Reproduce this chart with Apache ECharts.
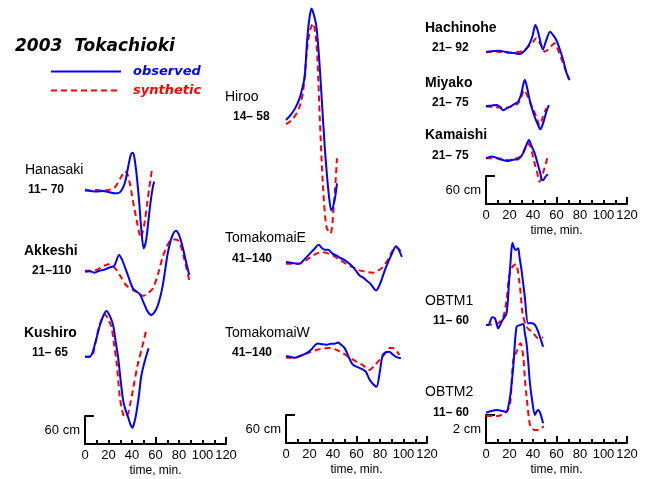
<!DOCTYPE html>
<html><head><meta charset="utf-8">
<script src="https://cdn.jsdelivr.net/npm/echarts@6/dist/echarts.min.js"></script>
<style>html,body{margin:0;padding:0;background:#fff}#c{width:650px;height:479px}</style>
</head><body><div id="c"></div>
<script>
// ---- data: [time (min), water level] ----
const stationNames = ['Hanasaki','Akkeshi','Kushiro','Hiroo','TomakomaiE','TomakomaiW','Hachinohe','Miyako','Kamaishi','OBTM1','OBTM2'];
const periodLabels = ['11\u2013 70','21\u2013110','11\u2013 65','14\u2013 58','41\u2013140','41\u2013140','21\u2013 92','21\u2013 75','21\u2013 75','11\u2013 60','11\u2013 60'];
const timeTickLabels = [0,20,40,60,80,100,120];
const scaleLabels = ['60 cm','60 cm','60 cm','2 cm'];
const scaleValues = [60,60,60,2];

const hanasakiObs = [[0,0],[5,-1],[10,-2],[15,-1],[20,-3],[25,-6],[28,-6],[31,0],[34,17],[37,54],[39,77],[40.5,81],[42,71],[44,32],[46,-21],[48,-86],[50,-124],[52,-107],[54,-64],[56,-21],[58,11],[59,19]];
const hanasakiSyn = [[0,2],[5,0],[10,1],[15,0],[20,1],[25,6],[28,17],[31,30],[34,41],[36,36],[38,17],[40,-11],[42,-39],[44,-64],[46,-90],[47.5,-101],[49,-90],[51,-64],[53,-26],[55,11],[57,45]];
const akkeshiObs = [[0,0],[4,1],[8,-2],[12,2],[16,4],[21,9],[25,13],[29,36],[31.5,26],[33.8,11],[37,-11],[40.8,-36],[44,-43],[46.5,-48],[50.7,-71],[53,-84],[56.3,-93],[60.5,-81],[63,-64],[66,-32],[68,0],[70.4,39],[74,75],[77.4,88],[80,79],[83,54],[86,21],[88.7,-7]];
const akkeshiSyn = [[0,2],[5,2],[10,4],[15,11],[19.7,16],[23,13],[26.8,4],[31,-13],[35,-29],[40.8,-39],[45,-45],[49.3,-52],[53,-47],[57.7,-36],[62,-6],[66.2,32],[70,56],[73.2,68],[77,69],[80.3,64],[84,32],[88.7,-18]];
const kushiroObs = [[0,0],[3,0],[5.6,4],[9,32],[12.7,68],[16,90],[18.3,98],[21,88],[23.9,68],[26,34],[28.1,0],[30,-43],[32.4,-93],[34.5,-114],[36.6,-129],[38.5,-144],[40.3,-152],[42,-141],[43.6,-122],[46,-81],[47.8,-43],[50.7,-11],[54.1,18]];
const kushiroSyn = [[0,0],[5.6,0],[8.5,26],[11.3,57],[14,79],[16.9,91],[19.5,81],[22.5,64],[24.5,30],[26.8,-11],[29.6,-86],[31.5,-114],[33,-127],[34.5,-129],[36.6,-122],[38.5,-101],[40.8,-71],[45.1,-14],[48.5,19],[52.1,57]];
const hirooObs = [[0,0],[4,11],[8,26],[11.6,47],[13.5,64],[15.9,93],[17.8,164],[19.5,210],[21.7,239],[23.5,227],[25.9,200],[28.7,114],[31.5,0],[33.8,-86],[36.6,-164],[38.6,-194],[41.4,-171],[43.4,-136]];
const hirooSyn = [[0,-9],[4,-2],[9,14],[12,32],[14.7,64],[17.9,150],[20.5,193],[23,207],[25.9,164],[27.5,86],[28.7,7],[31.5,-143],[34.4,-229],[37.8,-243],[40.6,-186],[43.4,-82]];
const tomakomaiEObs = [[0,0],[5,-2],[11.7,-4],[15,4],[20.3,18],[24,28],[27.9,37],[30.5,30],[33,26],[36,26],[39,19],[42.8,14],[46,9],[49.9,4],[55.5,-7],[59,-17],[62.6,-29],[66,-34],[68.2,-39],[72,-47],[76.7,-61],[80,-47],[85.1,-11],[90,17],[93.6,34],[96,26],[98.6,11]];
const tomakomaiESyn = [[0,-4],[6,-4],[11.7,-3],[17,4],[23,14],[27,19],[31.5,21],[35,19],[39.9,14],[45,6],[51.3,-4],[57,-11],[62.6,-18],[68,-21],[73.8,-23],[78,-19],[82.3,-11],[87,6],[92.1,29],[95,30],[97.8,21]];
const tomakomaiWObs = [[0,0],[4,-2],[7.6,-4],[12,0],[17.5,6],[22,15],[25,24],[27.3,27],[31,25],[34.4,24],[38,26],[41,26],[44.3,29],[46,26],[49.9,17],[53,0],[55,-11],[57,-19],[61,-24],[65.5,-29],[68,-34],[71.2,-51],[74,-60],[77,-66],[79.5,-39],[82.3,2],[85,8],[87.9,9],[90.5,4],[93.6,-2],[97.8,-5]];
const tomakomaiWSyn = [[0,-4],[5,-4],[11.8,0],[18,6],[25.9,13],[31,16],[37.2,17],[43,13],[48.4,6],[54,-3],[59.8,-12],[65,-19],[71.1,-30],[75,-21],[79.5,-9],[84,4],[88,17],[91,17],[93.6,13],[96.4,2]];
const hachinoheObs = [[0,0],[5,1],[11.6,2],[16,0],[20,-2],[24,-3],[28.7,-5],[32,0],[35.8,11],[39.4,32],[42,57],[43.8,47],[45.6,29],[48.4,5],[51.3,25],[54.6,43],[57,36],[59.8,25],[62,11],[64,-4],[66,-21],[68.2,-43],[71.1,-61]];
const hachinoheSyn = [[0,-1],[10,0],[20,-2],[26,-1],[31.5,2],[36,11],[40,21],[42.8,29],[45,21],[47,14],[49.9,0],[52,3],[54,7],[56,13],[58.2,18],[60.5,9],[62.4,-4],[64.5,-17],[66.6,-32],[70.3,-57]];
const miyakoObs = [[0,0],[5,1],[9,2],[12,-2],[14.6,-9],[17,-6],[20.3,-2],[24,4],[27.3,9],[30,26],[33,56],[35,39],[37.2,13],[39,-4],[41.4,-23],[44,-39],[46.2,-50],[48,-41],[49.9,-26],[51.5,-11],[53.5,2]];
const miyakoSyn = [[0,-1],[6,-2],[12,-3],[18,-3],[23,0],[27.3,6],[30,19],[32.4,34],[34.5,26],[37.2,9],[40,-6],[42.8,-23],[45.6,-41],[48.4,-23],[51.3,-5]];
const kamaishiObs = [[0,0],[4.8,4],[8,2],[11.8,-2],[15,-4],[18.9,-6],[23,-3],[27.3,-2],[29.5,3],[31.6,11],[34,26],[36.6,39],[38.5,28],[41.4,11],[44.2,-14],[46,-30],[47.9,-47],[49.3,-45],[50.7,-39],[52.7,-34]];
const kamaishiSyn = [[0,0],[5,0],[10,0],[15,-2],[18.9,-4],[24,-1],[29.6,4],[32.5,17],[35.2,32],[38,25],[39.5,9],[41.4,-11],[43.5,-30],[45.6,-50],[48.4,-32],[52.1,0]];
const obtm1Obs = [[0,0],[2,0],[5.3,0.55],[7.6,0.48],[10.4,-0.24],[12,0],[14.1,0.36],[17.5,0.84],[19.7,3.21],[21,4.64],[22.5,5.88],[24,5.5],[25.4,5.36],[27.3,5.48],[28.5,4.86],[30.2,3.93],[33,2.02],[35.8,0.12],[38,0.14],[40.3,0.1],[42.5,-0.1],[44.5,-0.5],[47.2,-1.19],[48.6,-1.55]];
const obtm1Syn = [[0,0],[5,0.04],[10,0.11],[14.6,0.55],[17.5,1.79],[19.7,3.45],[22.5,4.16],[25.4,4.34],[28.2,3.21],[29.6,2.14],[31.1,0.84],[34.5,-0.12],[38.7,-0.48],[41.5,-0.71],[44.3,-0.95],[48.6,-0.88]];
const obtm2Obs = [[0,0],[4,0.11],[9,0.19],[13,0.14],[17.5,0.07],[19,0.43],[20.9,1.39],[23.2,3.29],[26,6.14],[28.9,6.26],[31.7,6.34],[33,5.71],[34.5,4.96],[36,3.57],[37.4,2.1],[39.6,0.67],[41.6,-0.16],[43,0.07],[44.4,0.19],[46,0],[48.6,-0.76]];
const obtm2Syn = [[0,-0.24],[10,-0.24],[15,-0.07],[17.5,0.07],[19.5,0.36],[20.9,0.91],[23.2,3.76],[26,4.36],[29.3,4.96],[31.7,4],[33,2.5],[34.5,1.14],[37.4,-0.88],[39.5,-1.14],[41.6,-1.24],[45,-1.24],[49,-0.95]];

const observedSeries = [hanasakiObs,akkeshiObs,kushiroObs,hirooObs,tomakomaiEObs,tomakomaiWObs,hachinoheObs,miyakoObs,kamaishiObs,obtm1Obs,obtm2Obs];
const syntheticSeries = [hanasakiSyn,akkeshiSyn,kushiroSyn,hirooSyn,tomakomaiESyn,tomakomaiWSyn,hachinoheSyn,miyakoSyn,kamaishiSyn,obtm1Syn,obtm2Syn];

// ---- layout (pixels) ----
const columns = [
  {left:85, axisY:444, barPx:28},
  {left:286, axisY:443, barPx:28},
  {left:486, axisY:204, barPx:28},
  {left:486, axisY:443, barPx:28}
];
const axisWidth = 141;
const stationLayout = [
  {col:0, base:190.5, nx:25, ny:170, px:28, py:189.5, bold:false},
  {col:0, base:271.7, nx:24, ny:251, px:32, py:270.5, bold:true},
  {col:0, base:356.7, nx:24, ny:333, px:32, py:352.5, bold:true},
  {col:1, base:120, nx:225, ny:97, px:233, py:117, bold:false},
  {col:1, base:262, nx:225, ny:238, px:232, py:259, bold:false},
  {col:1, base:356, nx:225, ny:333, px:232, py:352.5, bold:false},
  {col:2, base:51.7, nx:425, ny:28, px:432, py:47.5, bold:true},
  {col:2, base:106, nx:425, ny:83, px:432, py:103, bold:true},
  {col:2, base:158.3, nx:425, ny:135, px:432, py:156, bold:true},
  {col:3, base:325, nx:425, ny:301, px:433, py:321, bold:false},
  {col:3, base:412.7, nx:425, ny:392.5, px:433, py:412.5, bold:false}
];

const FONT = 'Liberation Sans';
const grids = [], xAxes = [], yAxes = [], series = [], graphics = [];

columns.forEach((c, i) => {
  const gi = grids.length;
  grids.push({left:c.left, top:c.axisY - c.barPx, width:axisWidth, height:c.barPx, outerBoundsMode:'none', containLabel:false});
  xAxes.push({
    gridIndex:gi, type:'value', min:0, max:120, interval:20, position:'bottom',
    axisLine:{show:true, lineStyle:{color:'#000', width:2}},
    axisTick:{show:true, inside:true, length:4, lineStyle:{color:'#000', width:2}},
    minorTick:{show:true, splitNumber:2, length:4, lineStyle:{color:'#000', width:2}},
    splitLine:{show:false}, minorSplitLine:{show:false},
    axisLabel:{show:true, color:'#000', fontSize:13, fontFamily:FONT, margin:5,
      formatter: v => timeTickLabels.indexOf(v) >= 0 ? String(v) : ''},
    name:'time, min.', nameLocation:'middle', nameGap:21,
    nameTextStyle:{color:'#000', fontSize:12, fontFamily:FONT}
  });
  xAxes.push({
    gridIndex:gi, type:'value', min:0, max:120, interval:60, position:'bottom',
    axisLine:{show:false}, axisLabel:{show:false}, splitLine:{show:false},
    axisTick:{show:true, inside:true, length:7, lineStyle:{color:'#000', width:2}}
  });
  yAxes.push({
    gridIndex:gi, type:'value', min:0, max:scaleValues[i], interval:scaleValues[i],
    axisLine:{show:true, lineStyle:{color:'#000', width:2}},
    axisTick:{show:true, inside:true, length:9, lineStyle:{color:'#000', width:2}},
    axisLabel:{show:false}, splitLine:{show:false},
    name:scaleLabels[i], nameLocation:'middle', nameRotate:0, nameGap:5,
    nameTextStyle:{color:'#000', fontSize:13, fontFamily:FONT, align:'right'}
  });
});

const HALF = 135;
stationLayout.forEach((s, i) => {
  const c = columns[s.col];
  const ppu = c.barPx / scaleValues[s.col];
  const gi = grids.length;
  grids.push({left:c.left, top:s.base - HALF, width:axisWidth, height:2*HALF, outerBoundsMode:'none', containLabel:false});
  const xi = xAxes.length, yi = yAxes.length;
  xAxes.push({gridIndex:gi, type:'value', min:0, max:120, show:false});
  yAxes.push({gridIndex:gi, type:'value', min:-HALF/ppu, max:HALF/ppu, show:false});
  series.push({
    name:'synthetic', type:'line', xAxisIndex:xi, yAxisIndex:yi, data:syntheticSeries[i],
    symbol:'none', smooth:0.3, clip:false, z:2,
    lineStyle:{color:'#ff0000', width:2, type:[6,4]}, itemStyle:{color:'#ff0000'}
  });
  series.push({
    name:'observed', type:'line', xAxisIndex:xi, yAxisIndex:yi, data:observedSeries[i],
    symbol:'none', smooth:0.3, clip:false, z:3,
    lineStyle:{color:'#0000ff', width:2}, itemStyle:{color:'#0000ff'}
  });
  graphics.push({type:'text', x:s.nx, y:s.ny, style:{text:stationNames[i], fill:'#000',
    font:(s.bold?'bold ':'') + '14px "' + FONT + '"', textVerticalAlign:'middle'}});
  graphics.push({type:'text', x:s.px, y:s.py, style:{text:periodLabels[i], fill:'#000',
    font:'bold 12px "' + FONT + '"', textVerticalAlign:'middle'}});
});

const chart = echarts.init(document.getElementById('c'), null, {renderer:'canvas'});
chart.setOption({
  animation:false,
  backgroundColor:'#fff',
  title:{text:'2003  Tokachioki', left:15, top:38, padding:0,
    textStyle:{fontFamily:'DejaVu Sans', fontSize:17, fontWeight:'bold', fontStyle:'italic', color:'#000'}},
  legend:{
    orient:'vertical', left:50, top:65, padding:0, itemWidth:70, itemHeight:14, itemGap:6,
    selectedMode:false,
    itemStyle:{opacity:0},
    data:[
      {name:'observed', textStyle:{color:'#0000ff'}},
      {name:'synthetic', textStyle:{color:'#ff0000'}}
    ],
    textStyle:{fontFamily:'DejaVu Sans', fontSize:13, fontWeight:'bold', fontStyle:'italic', padding:[0,0,0,7]}
  },
  grid:grids, xAxis:xAxes, yAxis:yAxes, series:series, graphic:graphics
});
</script></body></html>
